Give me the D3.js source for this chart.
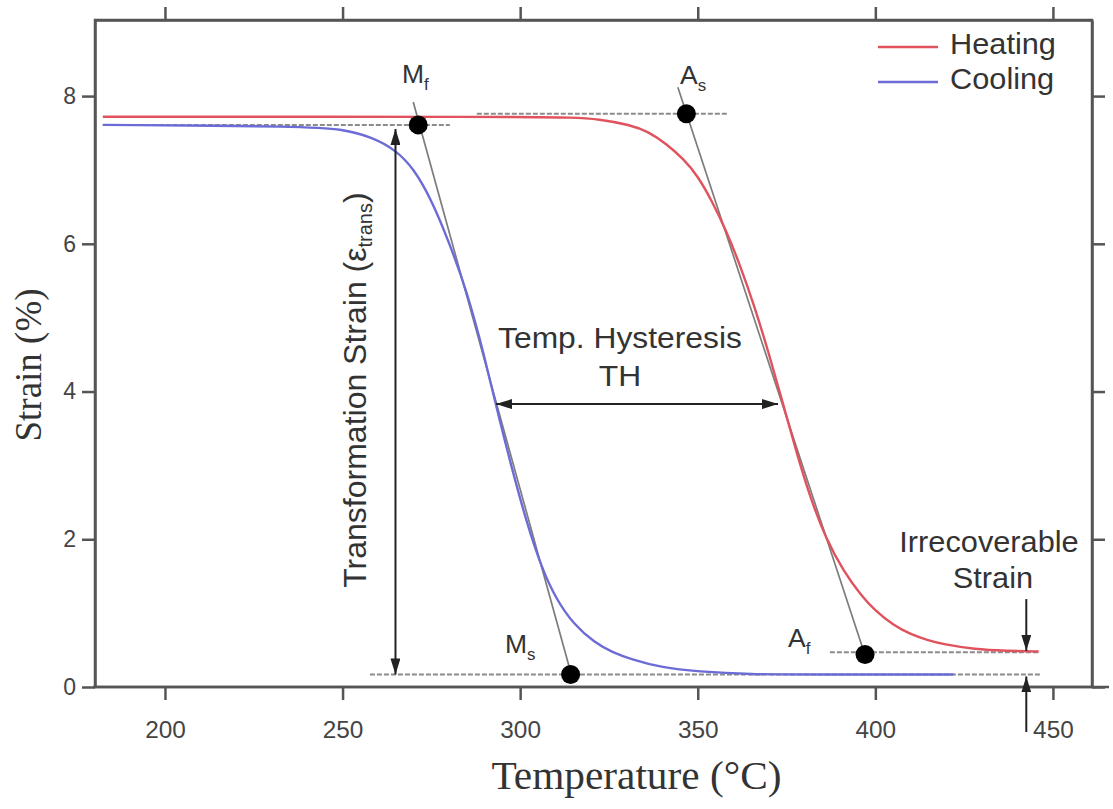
<!DOCTYPE html>
<html>
<head>
<meta charset="utf-8">
<script src="https://cdn.jsdelivr.net/npm/d3@7"></script>
<style>
  body { margin: 0; background: #fff; }
  svg { display: block; }
</style>
</head>
<body>
<svg id="chart" width="1113" height="809"></svg>
<script>
// Strain vs. temperature during a thermal cycle (heating and cooling branches)
const heatingTemp   = [182.5, 300, 315, 322, 331, 336, 341, 346, 350, 354, 358, 362, 366, 370, 374, 378, 382, 386, 391, 396, 400, 405, 410, 415, 419, 428, 437, 446];
const heatingStrain = [7.72, 7.72, 7.71, 7.69, 7.61, 7.52, 7.36, 7.15, 6.92, 6.58, 6.18, 5.70, 5.15, 4.52, 3.84, 3.14, 2.52, 2.02, 1.57, 1.24, 1.03, 0.84, 0.71, 0.63, 0.58, 0.51, 0.49, 0.48];

const coolingTemp   = [182.5, 240, 250, 258, 265, 270, 275, 280, 285, 290, 294, 298, 302, 306, 310, 315, 321, 326, 331, 340, 350, 365, 380, 422];
const coolingStrain = [7.61, 7.59, 7.55, 7.45, 7.27, 7.02, 6.60, 6.02, 5.36, 4.47, 3.65, 2.90, 2.20, 1.62, 1.20, 0.85, 0.60, 0.47, 0.38, 0.26, 0.21, 0.17, 0.17, 0.17];

const seriesNames = ["Heating", "Cooling"];
const xTicks = [200, 250, 300, 350, 400, 450];
const yTicks = [0, 2, 4, 6, 8];

// Characteristic transformation temperatures (start / finish)
const pointLabels = ["M", "A", "M", "A"];
const pointSubs   = ["f", "s", "s", "f"];
const pointTemp   = [271.3, 346.8, 314.2, 397.1];
const pointStrain = [7.61, 7.76, 0.17, 0.44];

// Tangent construction lines: [temp1, strain1, temp2, strain2]
const tangentCooling = [269.9, 7.92, 314.4, 0.17];
const tangentHeating = [344.4, 8.12, 397.1, 0.43];

// Baselines (temp from, temp to, strain)
const baseFrom   = [182.5, 287.8, 257.7, 387.2];
const baseTo     = [280.2, 358.2, 446.9, 446.3];
const baseStrain = [7.61, 7.76, 0.17, 0.47];

// Hysteresis and strain measures
const hysteresisTemp = [293.2, 372.6];
const hysteresisStrain = 3.83;
const transTemp = 264.9;
const transStrain = [7.61, 0.17];
const irrecTemp = 442.5;

const W = 1113, H = 809;
const mLeft = 95, mRight = 1092, mTop = 20, mBottom = 687;

const svg = d3.select("#chart");
const x = d3.scaleLinear().domain([180.3, 461]).range([mLeft, mRight]);
const y = d3.scaleLinear().domain([0, 9.03]).range([mBottom, mTop]);

const SANS = "'Liberation Sans', Arial, Helvetica, sans-serif";
const SERIF = "'Liberation Serif', 'Times New Roman', serif";
const STRETCH = 1.06;
const INK = "#222";
const TEXT = "#333";

// arrowhead marker
const defs = svg.append("defs");
defs.append("marker")
  .attr("id", "head")
  .attr("viewBox", "0 0 16 10")
  .attr("refX", 16).attr("refY", 5)
  .attr("markerWidth", 16).attr("markerHeight", 10)
  .attr("markerUnits", "userSpaceOnUse")
  .attr("orient", "auto-start-reverse")
  .append("path")
  .attr("d", "M0,0 L16,5 L0,10 Z")
  .attr("fill", INK);

// frame
svg.append("rect")
  .attr("x", mLeft).attr("y", mTop)
  .attr("width", mRight - mLeft).attr("height", mBottom - mTop)
  .attr("fill", "none").attr("stroke", "#555").attr("stroke-width", 2.5);

// axes
const gx = svg.append("g").attr("transform", `translate(0,${mBottom})`)
  .call(d3.axisBottom(x).tickValues(xTicks).tickSize(13).tickSizeOuter(0).tickPadding(22));
const gxTop = svg.append("g").attr("transform", `translate(0,${mTop})`)
  .call(d3.axisTop(x).tickValues(xTicks).tickSize(13).tickSizeOuter(0).tickFormat(""));
const gy = svg.append("g").attr("transform", `translate(${mLeft},0)`)
  .call(d3.axisLeft(y).tickValues(yTicks).tickSize(13).tickSizeOuter(0).tickPadding(6));
const gyRight = svg.append("g").attr("transform", `translate(${mRight},0)`)
  .call(d3.axisRight(y).tickValues(yTicks).tickSize(13).tickSizeOuter(0).tickFormat(""));

[gx, gxTop, gy, gyRight].forEach(g => {
  g.select(".domain").attr("stroke", "#555").attr("stroke-width", 2.5);
  g.selectAll(".tick line").attr("stroke", "#555").attr("stroke-width", 2.5);
});
gx.select(".domain").attr("d", `M${mLeft - 2},0H${W - 4}`);
gx.selectAll(".tick text")
  .attr("font-family", SANS).attr("font-size", 23).attr("fill", "#444")
  .attr("transform", `scale(${STRETCH},1)`);
gy.selectAll(".tick text")
  .attr("font-family", SANS).attr("font-size", 23).attr("fill", "#444");

// axis titles
svg.append("text")
  .attr("transform", `translate(${(mLeft + mRight) / 2 + 43},789) scale(${STRETCH},1)`)
  .attr("text-anchor", "middle")
  .attr("font-family", SERIF).attr("font-size", 39).attr("fill", TEXT)
  .text("Temperature (°C)");
svg.append("text")
  .attr("transform", `translate(41,365) rotate(-90)`)
  .attr("text-anchor", "middle")
  .attr("font-family", SERIF).attr("font-size", 37).attr("fill", TEXT)
  .text("Strain (%)");

// baselines (dotted)
baseStrain.forEach((s, i) => {
  svg.append("line")
    .attr("x1", x(baseFrom[i])).attr("x2", x(baseTo[i]))
    .attr("y1", y(s)).attr("y2", y(s))
    .attr("stroke", "#8c8c8c").attr("stroke-width", 2)
    .attr("stroke-dasharray", "5,2");
});

// tangent lines
[tangentCooling, tangentHeating].forEach(t => {
  svg.append("line")
    .attr("x1", x(t[0])).attr("y1", y(t[1]))
    .attr("x2", x(t[2])).attr("y2", y(t[3]))
    .attr("stroke", "#7c7c7c").attr("stroke-width", 1.7);
});

// curves
const line = d3.line().x(d => x(d[0])).y(d => y(d[1])).curve(d3.curveBasis);
const heating = heatingTemp.map((t, i) => [t, heatingStrain[i]]);
const cooling = coolingTemp.map((t, i) => [t, coolingStrain[i]]);
const colors = { Heating: "#e0525e", Cooling: "#6c6cd6" };

svg.append("path").datum(cooling)
  .attr("d", line).attr("fill", "none")
  .attr("stroke", colors.Cooling).attr("stroke-width", 2.4);
svg.append("path").datum(heating)
  .attr("d", line).attr("fill", "none")
  .attr("stroke", colors.Heating).attr("stroke-width", 2.4);

// characteristic points
svg.selectAll("circle.pt")
  .data(pointTemp.map((t, i) => [t, pointStrain[i]]))
  .join("circle").attr("class", "pt")
  .attr("cx", d => x(d[0])).attr("cy", d => y(d[1]))
  .attr("r", 9.5).attr("fill", "#000");

// point labels with subscripts (anchor = left edge of main letter)
const labelPos = [[266.7, 8.18], [345.0, 8.16], [295.7, 0.46], [375.4, 0.54]];
labelPos.forEach((p, i) => {
  const t = svg.append("text")
    .attr("transform", `translate(${x(p[0])},${y(p[1])}) scale(${STRETCH},1)`)
    .attr("font-family", SANS).attr("font-size", 25).attr("fill", TEXT);
  t.append("tspan").text(pointLabels[i]);
  t.append("tspan").attr("dy", 7).attr("font-size", 16).text(pointSubs[i]);
});

// transformation strain arrow (double headed)
svg.append("line")
  .attr("x1", x(transTemp)).attr("x2", x(transTemp))
  .attr("y1", y(transStrain[0]) + 4).attr("y2", y(transStrain[1]))
  .attr("stroke", INK).attr("stroke-width", 2)
  .attr("marker-start", "url(#head)").attr("marker-end", "url(#head)");

const tl = svg.append("text")
  .attr("transform", `translate(${x(256.6)},${y(4.02)}) rotate(-90)`)
  .attr("text-anchor", "middle")
  .attr("font-family", SANS).attr("font-size", 32).attr("fill", TEXT);
tl.append("tspan").text("Transformation Strain (ε");
tl.append("tspan").attr("dy", 6).attr("font-size", 20).text("trans");
tl.append("tspan").attr("dy", -6).text(")");

// hysteresis arrow
svg.append("line")
  .attr("x1", x(hysteresisTemp[0])).attr("x2", x(hysteresisTemp[1]))
  .attr("y1", y(hysteresisStrain)).attr("y2", y(hysteresisStrain))
  .attr("stroke", INK).attr("stroke-width", 2)
  .attr("marker-start", "url(#head)").attr("marker-end", "url(#head)");

const centerText = (str, t, s, size) => svg.append("text")
  .attr("transform", `translate(${x(t)},${y(s)}) scale(${STRETCH},1)`)
  .attr("text-anchor", "middle")
  .attr("font-family", SANS).attr("font-size", size).attr("fill", TEXT)
  .text(str);

centerText("Temp. Hysteresis", 328.1, 4.59, 30);
centerText("TH", 328.1, 4.08, 30);

// irrecoverable strain
centerText("Irrecoverable", 432.0, 1.83, 29);
centerText("Strain", 433.1, 1.34, 29);
svg.append("line")
  .attr("x1", x(irrecTemp)).attr("x2", x(irrecTemp))
  .attr("y1", y(1.19)).attr("y2", y(0.49))
  .attr("stroke", INK).attr("stroke-width", 2)
  .attr("marker-end", "url(#head)");
svg.append("line")
  .attr("x1", x(irrecTemp)).attr("x2", x(irrecTemp))
  .attr("y1", y(-0.61)).attr("y2", y(0.17) + 2)
  .attr("stroke", INK).attr("stroke-width", 2)
  .attr("marker-end", "url(#head)");

// legend
const legend = svg.append("g");
seriesNames.forEach((name, i) => {
  const ly = 47 + i * 35;
  legend.append("line")
    .attr("x1", 878).attr("x2", 938).attr("y1", ly).attr("y2", ly)
    .attr("stroke", colors[name]).attr("stroke-width", 2.4);
  legend.append("text")
    .attr("transform", `translate(950,${ly + 7}) scale(${STRETCH},1)`)
    .attr("font-family", SANS).attr("font-size", 29).attr("fill", TEXT)
    .text(name);
});
</script>
</body>
</html>
